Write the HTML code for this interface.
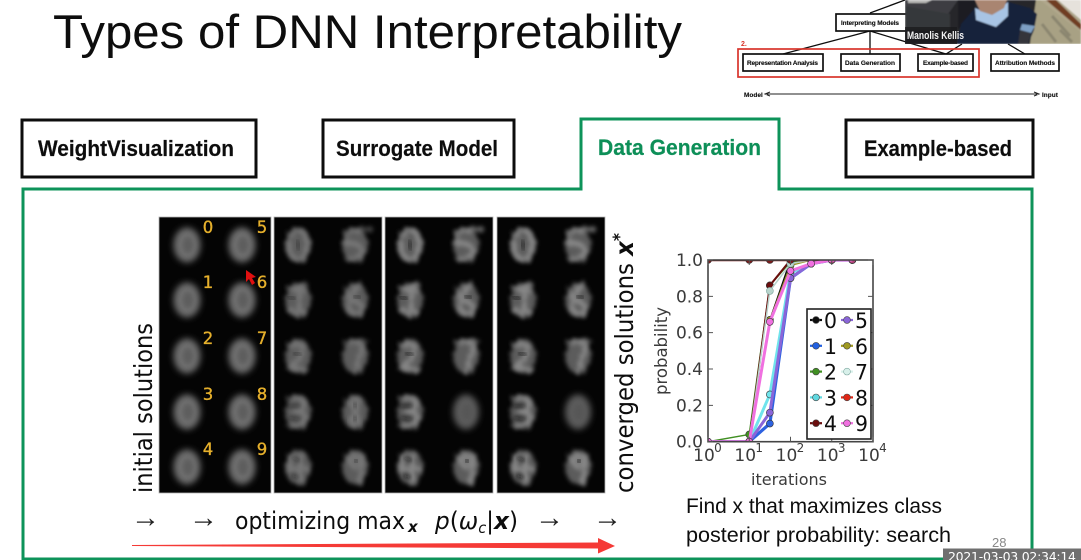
<!DOCTYPE html>
<html lang="en">
<head>
<meta charset="utf-8">
<title>Types of DNN Interpretability</title>
<style>
html,body{margin:0;padding:0;background:#fff;width:1081px;height:560px;overflow:hidden}
svg{display:block}
text{font-family:"Liberation Sans",sans-serif}
.dj{font-family:"DejaVu Sans",sans-serif}
.tab{font-weight:bold;font-size:22px;fill:#111;stroke:#111;stroke-width:.2}
.mini{font-weight:bold;font-size:6.5px;fill:#111;stroke:#111;stroke-width:.12}
</style>
</head>
<body>
<svg id="slide" width="1081" height="560" viewBox="0 0 1081 560" xmlns="http://www.w3.org/2000/svg">
<defs>
<filter id="b3" x="-50%" y="-50%" width="200%" height="200%"><feGaussianBlur stdDeviation="3.2"/></filter>
<filter id="b2" x="-50%" y="-50%" width="200%" height="200%"><feGaussianBlur stdDeviation="2.1"/></filter>
<filter id="rough" x="-60%" y="-60%" width="220%" height="220%">
<feTurbulence type="fractalNoise" baseFrequency="0.22" numOctaves="2" seed="7" result="n"/>
<feDisplacementMap in="SourceGraphic" in2="n" scale="7" result="d"/>
<feGaussianBlur in="d" stdDeviation="2"/>
</filter>
<filter id="soft" x="-5%" y="-5%" width="110%" height="110%"><feGaussianBlur stdDeviation="0.35"/></filter>
<filter id="cam" x="-5%" y="-5%" width="110%" height="110%"><feGaussianBlur stdDeviation="0.8"/></filter>
<clipPath id="plot-clip"><rect x="708" y="260" width="165" height="181.7"/></clipPath>
<clipPath id="cam-clip"><rect x="905" y="0" width="176" height="44"/></clipPath>
</defs>
<rect width="1081" height="560" fill="#fff"/>

<text x="53" y="48" font-size="47" fill="#111" textLength="629" lengthAdjust="spacingAndGlyphs" filter="url(#soft)">Types of DNN Interpretability</text>

<!-- taxonomy diagram -->
<g filter="url(#soft)">
<g stroke="#111" stroke-width="1.3" fill="none">
<path d="M870,13 L905,0"/>
<path d="M870,31 L783,54"/>
<path d="M870,31 L870,54"/>
<path d="M870,31 L946,54 L962,44"/>
<path d="M1008,44 L1025,54"/>
</g>
<rect x="836" y="14" width="72" height="17" fill="#fff" stroke="#111" stroke-width="1.7"/>
<text x="841" y="25" class="mini" textLength="58">Interpreting Models</text>
<rect x="743" y="54" width="80" height="17" fill="#fff" stroke="#111" stroke-width="1.7"/>
<text x="747" y="65" class="mini" textLength="71">Representation Analysis</text>
<rect x="841" y="54" width="59" height="17" fill="#fff" stroke="#111" stroke-width="1.7"/>
<text x="845" y="65" class="mini" textLength="50">Data Generation</text>
<rect x="918" y="54" width="55" height="17" fill="#fff" stroke="#111" stroke-width="1.7"/>
<text x="923" y="65" class="mini" textLength="45">Example-based</text>
<rect x="991" y="54" width="68" height="17" fill="#fff" stroke="#111" stroke-width="1.7"/>
<text x="995" y="65" class="mini" textLength="60">Attribution Methods</text>
<rect x="738" y="49" width="241" height="28" fill="none" stroke="#d8352c" stroke-width="1.7"/>
<text x="741" y="46" font-size="7" font-weight="bold" fill="#d8352c">2.</text>
<text x="744" y="97" class="mini">Model</text>
<text x="1042" y="97" class="mini">Input</text>
<path d="M767,94 H1037 M770,92 L765,94 L770,96 M1034,92 L1039,94 L1034,96" stroke="#222" stroke-width="1" fill="none"/>
</g>

<!-- webcam -->
<g clip-path="url(#cam-clip)">
<g filter="url(#cam)">
<rect x="905" y="0" width="176" height="44" fill="#26272b"/>
<path d="M905,0 H958 L948,14 L905,14 Z" fill="#3c3d42"/>
<path d="M908,0 H932 L926,3 L908,3 Z" fill="#b8b8b6"/>
<path d="M905,6 L950,14 L950,30 L905,30 Z" fill="#36373b"/>
<path d="M958,0 H975 V8 L958,30 Z" fill="#1d1d20"/>
<path d="M1036,0 H1081 V44 H1030 Z" fill="#a8a184"/>
<path d="M1040,0 H1060 L1081,22 V32 Z" fill="#b0a78c"/>
<path d="M1046,0 H1056 L1081,24 V30 Z" fill="#6f3c22"/>
<path d="M1058,0 H1081 V20 Z" fill="#e6e2dc"/>
<path d="M1052,16 L1070,36 M1042,24 L1056,42 M1060,30 L1072,42" stroke="#8b8670" stroke-width="3" fill="none"/>
<path d="M957,44 L961,24 L975,8 L1008,2 L1030,8 L1037,14 L1034,30 L1028,44 Z" fill="#14203a"/>
<path d="M1022,24 L1035,26 L1031,33 L1020,30 Z" fill="#7d9fc4"/>
<path d="M1020,30 L1031,33 L1028,44 L1018,44 Z" fill="#34343a"/>
<path d="M975,8 L976,20 L996,27 L1008,16 L1008,2 L998,10 L985,12 Z" fill="#a8c4e4"/>
<path d="M975,0 H1007 L1004,8 L992,15 L980,11 Z" fill="#a98571"/>
</g>
<rect x="905" y="27" width="52" height="17" fill="#1a1a1c" opacity=".75"/>
<text x="907" y="39" font-size="11" font-weight="bold" fill="#f4f4f4" textLength="57" lengthAdjust="spacingAndGlyphs">Manolis Kellis</text>
</g>

<!-- tabs -->
<g filter="url(#soft)">
<rect x="22" y="120" width="234" height="57" fill="#fff" stroke="#0c0c0c" stroke-width="3"/>
<text x="38" y="156" class="tab" textLength="196" lengthAdjust="spacingAndGlyphs">WeightVisualization</text>
<rect x="323" y="120" width="191" height="57" fill="#fff" stroke="#0c0c0c" stroke-width="3"/>
<text x="336" y="156" class="tab" textLength="162" lengthAdjust="spacingAndGlyphs">Surrogate Model</text>
<path d="M23,560 V189 H581 V119 H779 V189 H1032 V560" fill="none" stroke="#0f935a" stroke-width="3"/>
<path d="M23,559 H943" fill="none" stroke="#0f935a" stroke-width="3"/>
<text x="598" y="155" class="tab" style="fill:#0f8f58;stroke:#0f8f58" textLength="163" lengthAdjust="spacingAndGlyphs">Data Generation</text>
<rect x="846" y="120" width="187" height="57" fill="#fff" stroke="#0c0c0c" stroke-width="3"/>
<text x="864" y="156" class="tab" textLength="148" lengthAdjust="spacingAndGlyphs">Example-based</text>
</g>

<!-- digit panels -->
<g id="digit-panels"></g>

<path d="M246,270 L246,282 L249,279 L252,285 L255,283 L252,278 L256,277 Z" fill="#e01010"/>

<g filter="url(#soft)">
<text transform="translate(152,493) rotate(-90)" class="dj" font-size="25" fill="#111" textLength="170" lengthAdjust="spacingAndGlyphs">initial solutions</text>
<text transform="translate(633,493) rotate(-90)" class="dj" font-size="25" fill="#111" textLength="260" lengthAdjust="spacingAndGlyphs">converged solutions <tspan font-weight="bold" font-style="italic">x</tspan><tspan font-weight="bold" font-style="italic" dy="-8" font-size="17">*</tspan></text>
<text x="131" y="527" font-size="29" fill="#222">→</text>
<text x="189" y="527" font-size="29" fill="#222">→</text>
<text x="235" y="529" class="dj" font-size="24" fill="#111" textLength="170" lengthAdjust="spacingAndGlyphs">optimizing max</text>
<text x="408" y="532" class="dj" font-size="15" font-style="italic" font-weight="bold" fill="#111">x</text>
<text x="435" y="529" class="dj" font-size="24" fill="#111" textLength="83" lengthAdjust="spacingAndGlyphs"><tspan font-style="italic">p</tspan>(<tspan font-style="italic">ω</tspan><tspan font-size="15" font-style="italic" dy="4">c</tspan><tspan dy="-4">|</tspan><tspan font-weight="bold" font-style="italic">x</tspan>)</text>
<text x="535" y="527" font-size="29" fill="#222">→</text>
<text x="593" y="527" font-size="29" fill="#222">→</text>
</g>

<path d="M132,545 L598,542.5 L598,538 L615,546 L598,553.5 L598,548.5 L132,546 Z" fill="#f53a36"/>

<!-- chart -->
<g id="probability-chart" filter="url(#soft)"></g>

<g filter="url(#soft)">
<text x="686" y="513" font-size="21.5" fill="#111" textLength="256" lengthAdjust="spacingAndGlyphs">Find x that maximizes class</text>
<text x="686" y="542" font-size="21.5" fill="#111" textLength="265" lengthAdjust="spacingAndGlyphs">posterior probability: search</text>
<text x="992" y="547" font-size="13" fill="#888">28</text>
</g>
<path d="M1032,189 V549" stroke="#0f935a" stroke-width="3"/>
<rect x="943" y="548.5" width="138" height="12" fill="#6f6f6f"/>
<text x="948" y="561" class="dj" font-size="12.5" fill="#fff" textLength="128">2021-03-03 02:34:14</text>

<script>
// ---- chart data ----
var iterations = [1, 10, 31.6, 100, 316, 1000, 3162];
var seriesLabels = ['0','1','2','3','4','5','6','7','8','9'];
var series0 = [0, 0, 0.67, 1, 1, 1, 1];
var series1 = [0, 0, 0.10, 0.90, 0.98, 1, 1];
var series2 = [0, 0.04, 0.86, 0.99, 1, 1, 1];
var series3 = [0, 0, 0.26, 0.93, 0.98, 1, 1];
var series4 = [0, 0, 0.86, 1, 1, 1, 1];
var series5 = [0, 0, 0.16, 0.90, 0.98, 1, 1];
var series6 = [0, 0, 0.67, 0.97, 1, 1, 1];
var series7 = [0, 0, 0.83, 0.98, 1, 1, 1];
var series8 = [1, 1, 1, 1, 1, 1, 1];
var series9 = [0, 0, 0.66, 0.94, 0.98, 1, 1];
var yTickValues = [0, 0.2, 0.4, 0.6, 0.8, 1];
var yTickLabels = ['0.0','0.2','0.4','0.6','0.8','1.0'];
var xTickValues = [1, 10, 100, 1000, 10000];
var xTickExponents = ['0','1','2','3','4'];
var allSeries = [series0, series1, series2, series3, series4, series5, series6, series7, series8, series9];
var seriesColors = ['#111111','#2f62e0','#3f8f20','#70e4ec','#6a1010','#8a66d8','#9a9420','#b8d4cc','#7a1c1c','#f070e0'];
var legendColors = ['#111111','#2060e0','#3f8f20','#60d8e0','#6a1010','#8a66d8','#a09a20','#d8f0ea','#e02818','#f070e0'];
var lineWidths = [1.5, 3.2, 1.5, 3, 2, 3, 1.5, 1.5, 2.6, 3];

// ---- digit panel data ----
var panelCols = [[187,242],[298,355],[410,466],[523,578]];
var rowCenters = [245,300,356,412,467];
var panelBoxes = [[159,112],[274,108],[385,108],[497,108]];
var panelDetail = [0, 0.6, 0.95, 1];
var digitBright = [
 'M0,-15 C12,-15 13,12 0,15 C-13,12 -12,-15 0,-15',
 'M2,-14 L8,-15 M-8,-12 L6,-8 M2,-10 L0,16 M-10,10 L8,12',
 'M-8,-10 C6,-18 12,-4 -8,12 L10,14',
 'M-9,-14 C10,-16 10,-4 0,-1 C12,2 10,14 -10,14',
 'M-6,-12 L-9,2 L10,2 M3,-12 L2,17',
 'M16,-16 L-8,-14 L-10,-2 C12,-4 12,14 -8,14',
 'M6,-16 C-10,-6 -10,14 2,14 C12,12 6,-2 -6,2',
 'M-9,-14 L10,-14 L0,16',
 'M0,-14 C-12,-8 12,4 0,14 C-12,8 12,-8 0,-14',
 'M8,-8 C0,-18 -12,-6 0,0 L8,-8 L4,16'
];
var digitDark = [
 'M-1,-3 L1,3','M-9,-3 L-4,-1','M-3,-3 L2,-1','M-8,-6 L0,-6 M-8,6 L0,7','M-5,-9 L0,-7 M-5,9 L-1,10',
 'M-3,5 L3,5','M0,-4 L4,-2','M-6,-4 L2,-4','M-1,-7 L1,-6 M-1,6 L1,7','M0,-7 L2,-5'
];
var NS = 'http://www.w3.org/2000/svg';

function mk(parent, tag, attrs) {
  var el = document.createElementNS(NS, tag);
  for (var k in attrs) el.setAttribute(k, attrs[k]);
  parent.appendChild(el);
  return el;
}

// draw panels
var panelsRoot = document.getElementById('digit-panels');
panelBoxes.forEach(function (box, p) {
  var frame = mk(panelsRoot, 'rect', {x: box[0], y: 217, width: box[1], height: 276, fill: '#040404', stroke: '#b5b5b5', 'stroke-width': 0.8});
  
  
  panelCols[p].forEach(function (cx, c) {
    rowCenters.forEach(function (cy, r) {
      var d = c * 5 + r;
      var g = mk(panelsRoot, 'g', {transform: 'translate(' + cx + ',' + cy + ')'});
      
      
      var amount = panelDetail[p];
      var keepBlur = (p >= 2 && d === 8);
      var base = mk(g, 'ellipse', {rx: p === 0 ? 13.5 : 13, ry: 17.5, fill: p === 0 ? '#6e6e6e' : '#5c5c5c', filter: p === 0 || keepBlur ? 'url(#b3)' : 'url(#rough)'});
      
      
      if (amount > 0 && !keepBlur) {
        var bright = mk(g, 'path', {d: digitBright[d], fill: 'none', stroke: '#a4a4a4', 'stroke-width': 5, opacity: amount * 0.6, filter: 'url(#rough)', 'stroke-linecap': 'round'});
        
        
        var dark = mk(g, 'path', {d: digitDark[d], fill: 'none', stroke: '#0a0a0a', 'stroke-width': 3.5, opacity: amount * 0.65, filter: 'url(#b2)', 'stroke-linecap': 'round'});
        
        
      } else {
        var inner = mk(g, 'ellipse', {cx: 1, cy: 0, rx: 5, ry: 8, fill: '#525252', opacity: 0.6, filter: 'url(#b2)'});
        
        
      }
    });
  });
});
// yellow labels on first panel
rowCenters.forEach(function (cy, r) {
  [0, 1].forEach(function (c) {
    var t = mk(panelsRoot, 'text', {x: c === 0 ? 208 : 262, y: cy - 12, 'text-anchor': 'middle', 'font-size': 16.5, fill: '#e6b02c', stroke: '#e6b02c', 'stroke-width': 0.35, 'class': 'dj'});
    
    
    t.textContent = String(c * 5 + r);
  });
});

// draw chart
var chart = document.getElementById('probability-chart');
function xScale(v) { return 708 + Math.log(v) / Math.LN10 / 4 * 165; }
function yScale(p) { return 441.7 - p * 181.7; }

var plotBg = mk(chart, 'rect', {x: 708, y: 260, width: 165, height: 181.7, fill: '#fff'});



var marks = mk(chart, 'g', {'clip-path': 'url(#plot-clip)'});



allSeries.forEach(function (vals, s) {
  var pts = vals.map(function (v, i) { return xScale(iterations[i]) + ',' + yScale(v); }).join(' ');
  var line = mk(marks, 'polyline', {points: pts, fill: 'none', stroke: seriesColors[s], 'stroke-width': lineWidths[s], 'stroke-linejoin': 'round'});
  
  
  vals.forEach(function (v, i) {
    var dot = mk(marks, 'circle', {cx: xScale(iterations[i]), cy: yScale(v), r: 3.5, fill: seriesColors[s], stroke: s === 7 ? '#7fa8a0' : '#333', 'stroke-width': 0.6, 'fill-opacity': (s === 9 && i > 4) ? 0.45 : 1});
    
    
  });
});

var frameRect = mk(chart, 'rect', {x: 708, y: 260, width: 165, height: 181.7, fill: 'none', stroke: '#444', 'stroke-width': 1.6});



yTickValues.forEach(function (v, i) {
  var tk = mk(chart, 'path', {d: 'M708,' + yScale(v) + ' h5 M873,' + yScale(v) + ' h-5', stroke: '#555', 'stroke-width': 1});
  
  
  var lab = mk(chart, 'text', {x: 703, y: yScale(v) + 6, 'text-anchor': 'end', 'font-size': 17, fill: '#3a3a3a', 'class': 'dj'});
  
  
  lab.textContent = yTickLabels[i];
});
xTickValues.forEach(function (v, i) {
  var px = xScale(v);
  var tk = mk(chart, 'path', {d: 'M' + px + ',441.7 v-5 M' + px + ',260 v5', stroke: '#555', 'stroke-width': 1});
  
  
  var lab = mk(chart, 'text', {x: px - 4, y: 461, 'text-anchor': 'middle', 'font-size': 17, fill: '#3a3a3a', 'class': 'dj'});
  
  
  lab.textContent = '10';
  var sup = mk(chart, 'text', {x: px + 10, y: 452, 'text-anchor': 'middle', 'font-size': 12, fill: '#3a3a3a', 'class': 'dj'});
  
  
  sup.textContent = xTickExponents[i];
});

var xTitle = mk(chart, 'text', {x: 789, y: 485, 'text-anchor': 'middle', 'font-size': 16, fill: '#3a3a3a', 'class': 'dj'});


xTitle.textContent = 'iterations';
var yTitle = mk(chart, 'text', {transform: 'translate(667,351) rotate(-90)', 'text-anchor': 'middle', 'font-size': 16.5, fill: '#3a3a3a', 'class': 'dj'});


yTitle.textContent = 'probability';

// legend
var legendBox = mk(chart, 'rect', {x: 807, y: 309, width: 64, height: 130, fill: '#fff', stroke: '#222', 'stroke-width': 1.6});


seriesLabels.forEach(function (label, s) {
  var col = s < 5 ? 0 : 1;
  var row = s % 5;
  var mx = col === 0 ? 816 : 847;
  var ly = 320 + row * 25.8;
  var ln = mk(chart, 'path', {d: 'M' + (mx - 6) + ',' + ly + ' h12', stroke: legendColors[s], 'stroke-width': 2.2});
  
  
  var dot = mk(chart, 'circle', {cx: mx, cy: ly, r: 3.4, fill: legendColors[s], stroke: s === 7 ? '#7fa8a0' : '#444', 'stroke-width': 0.6});
  
  
  var t = mk(chart, 'text', {x: mx + 8, y: ly + 8, 'font-size': 21, fill: '#111', 'class': 'dj', textLength: 13, lengthAdjust: 'spacingAndGlyphs'});
  
  
  t.textContent = label;
});
</script>
</svg>
</body>
</html>
